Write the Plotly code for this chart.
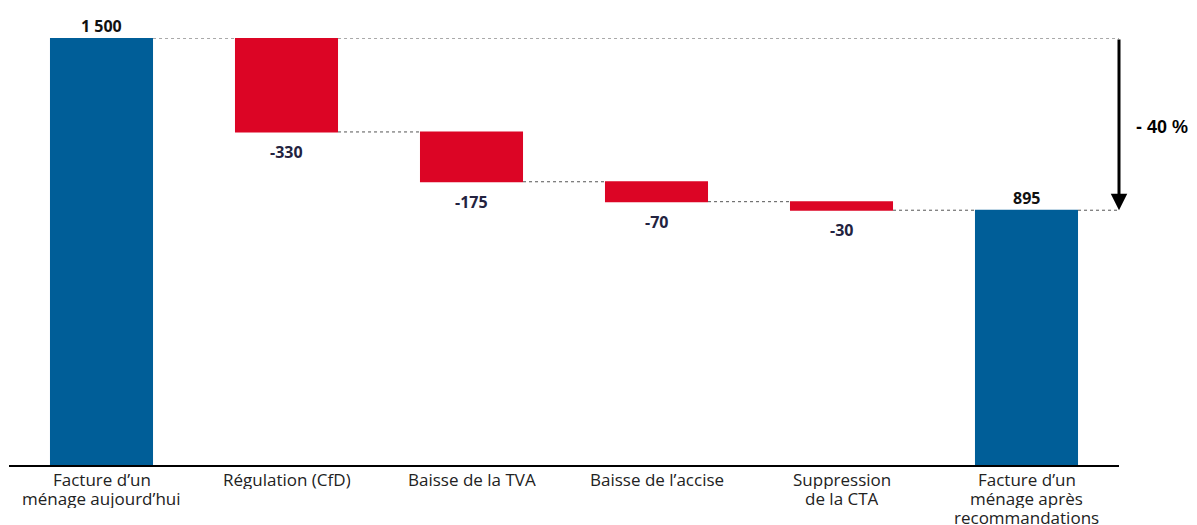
import plotly.graph_objects as go

categories = ["Facture d’un<br>ménage aujourd’hui", "Régulation (CfD)", "Baisse de la TVA",
              "Baisse de l’accise", "Suppression<br>de la CTA", "Facture d’un<br>ménage après<br>recommandations"]
values = [1500, -330, -175, -70, -30, 895]
measures = ["absolute", "relative", "relative", "relative", "relative", "total"]
labels = ["1 500", "-330", "-175", "-70", "-30", "895"]
change_label = "- 40 %"

BLUE = "#005e98"
RED = "#dc0525"
GAP = 0.443
hw = (1 - GAP) / 2

wf_y = [v if m != "total" else 0 for v, m in zip(values, measures)]

fig = go.Figure()
fig.add_trace(go.Waterfall(
    x=categories, y=wf_y, measure=measures,
    decreasing=dict(marker=dict(color=RED)),
    increasing=dict(marker=dict(color=RED)),
    totals=dict(marker=dict(color=BLUE)),
    connector=dict(mode="between", line=dict(color="#555555", width=1, dash="dot")),
    textinfo="none", hoverinfo="skip", cliponaxis=False,
))

# category labels, one annotation per line for tight leading
for i, cat in enumerate(categories):
    for k, line in enumerate(cat.split("<br>")):
        fig.add_annotation(x=i, y=0, text=line, showarrow=False, yanchor="middle",
                           yshift=-14 - 19 * k, height=19, valign="middle",
                           font=dict(family="Open Sans", size=17, color="#222222"))

# value labels
level = 0
for i, (v, m, lab) in enumerate(zip(values, measures, labels)):
    if m in ("absolute", "total"):
        level = v
        fig.add_annotation(x=i, y=v, text=f"<b>{lab}</b>", showarrow=False, yanchor="bottom",
                           yshift=-1, font=dict(family="Open Sans", size=16, color="#111111"))
    else:
        level = level + v
        fig.add_annotation(x=i, y=level, text=f"<b>{lab}</b>", showarrow=False, yanchor="top",
                           yshift=-7, font=dict(family="Open Sans", size=16, color="#23233f"))

start, end = values[0], values[-1]
n = len(categories)
xr = n - 1 + 0.53
fig.add_shape(type="line", x0=1 + hw, x1=xr, y0=start, y1=start,
              line=dict(color="#555555", width=1, dash="dot"))
fig.add_shape(type="line", x0=n - 1 + hw, x1=xr, y0=end, y1=end,
              line=dict(color="#555555", width=1, dash="dot"))

# arrow
fig.add_annotation(x=n - 1 + 0.5, y=end, ax=n - 1 + 0.5, ay=start, axref="x", ayref="y",
                   xref="x", yref="y", text="", showarrow=True, arrowhead=2, arrowsize=1.1,
                   arrowwidth=3, arrowcolor="#000000", standoff=0)
fig.add_annotation(x=n - 1 + 0.5, xref="x", xanchor="center", xshift=43, y=(start + end) / 2,
                   yshift=-3, text=f"<b>{change_label}</b>", showarrow=False,
                   font=dict(family="Liberation Sans", size=18, color="#000000"))

fig.update_layout(
    width=1189, height=517,
    margin=dict(l=1, r=78, t=30, b=60, autoexpand=False),
    plot_bgcolor="white", paper_bgcolor="white",
    waterfallgap=GAP,
    showlegend=False,
    xaxis=dict(showline=True, linecolor="#000000", linewidth=1.5, ticks="", automargin=False,
               showticklabels=False,
               range=[-0.5, n - 0.5], fixedrange=True),
    yaxis=dict(visible=False, range=[0, 1500], fixedrange=True, automargin=False),
)

fig.write_html("out.html")
